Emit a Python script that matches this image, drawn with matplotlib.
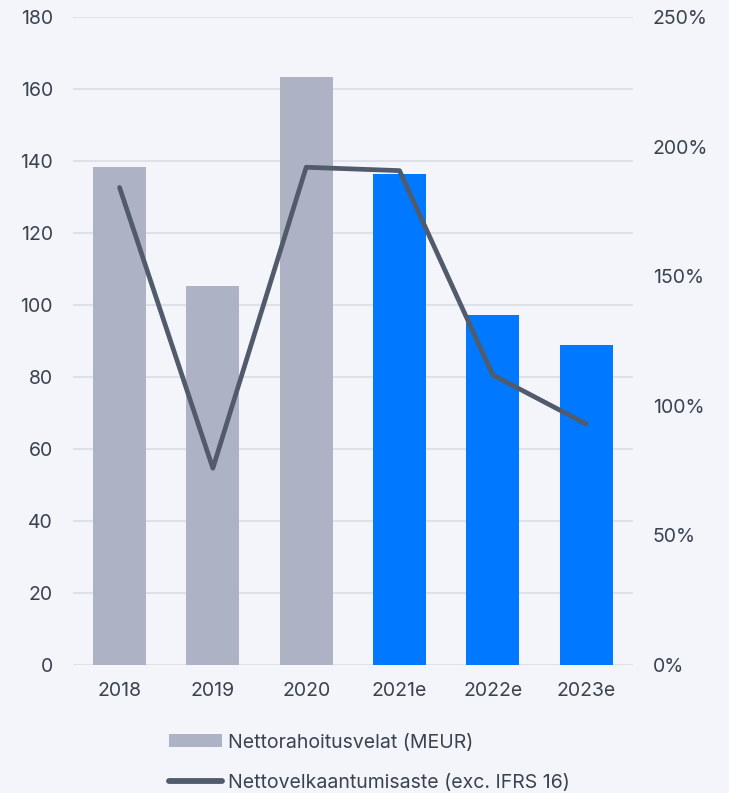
import matplotlib
matplotlib.use("Agg")
import matplotlib.pyplot as plt
from matplotlib.patches import Patch
from matplotlib.lines import Line2D

years = ["2018", "2019", "2020", "2021e", "2022e", "2023e"]
net_debt = [138.4, 105.2, 163.3, 136.4, 97.2, 88.8]          # MEUR
gearing = [184.2, 75.8, 192.0, 190.7, 111.8, 92.9]           # %
is_estimate = [False, False, False, True, True, True]
left_ticks = [0, 20, 40, 60, 80, 100, 120, 140, 160, 180]
right_ticks = [0, 50, 100, 150, 200, 250]

BG = "#F3F5FA"
GREY = "#ADB3C4"
BLUE = "#0078FF"
LINE = "#515B6B"
TEXT = "#3A4250"
GRID = "#DEE2E8"

plt.rcParams["font.family"] = ["Inter", "DejaVu Sans"]
FS = 14

fig = plt.figure(figsize=(7.29, 7.93), dpi=100, facecolor=BG)
ax = fig.add_axes([0.100, 0.162, 0.768, 0.8165])
ax.set_facecolor(BG)

x = list(range(len(years)))
colors = [BLUE if e else GREY for e in is_estimate]
ax.bar(x, net_debt, width=0.57, color=colors, zorder=2)

ax.set_xlim(-0.5, len(years) - 0.5)
ax.set_ylim(0, 180)
ax.set_yticks(left_ticks)
ax.set_xticks(x)
ax.set_xticklabels(years)
ax.grid(axis="y", color=GRID, linewidth=1.5, zorder=0)
for s in ax.spines.values():
    s.set_visible(False)
ax.tick_params(axis="both", length=0, labelsize=FS, colors=TEXT)
ax.tick_params(axis="y", pad=14.4)
ax.tick_params(axis="x", pad=12.5)

ax2 = ax.twinx()
ax2.plot(x, gearing, color=LINE, linewidth=3.4, solid_capstyle="round",
         solid_joinstyle="round", zorder=3)
ax2.set_ylim(0, 250)
ax2.set_yticks(right_ticks)
ax2.set_yticklabels([f"{v}%" for v in right_ticks])
for s in ax2.spines.values():
    s.set_visible(False)
ax2.tick_params(axis="y", length=0, labelsize=FS, colors=TEXT, pad=14.4)

handles = [
    Patch(facecolor=GREY, edgecolor="none", label="Nettorahoitusvelat (MEUR)"),
    Line2D([0], [0], color=LINE, linewidth=4.2, solid_capstyle="round",
           label="Nettovelkaantumisaste (exc. IFRS 16)"),
]
leg = fig.legend(handles=handles, loc="upper left",
                 bbox_to_anchor=(0.232, 0.075), ncol=1, frameon=False,
                 fontsize=FS, labelcolor=TEXT, handlelength=2.7,
                 handleheight=0.6, handletextpad=0.33, labelspacing=1.14,
                 borderaxespad=0, borderpad=0)

fig.savefig("out.png", dpi=100, facecolor=BG)
